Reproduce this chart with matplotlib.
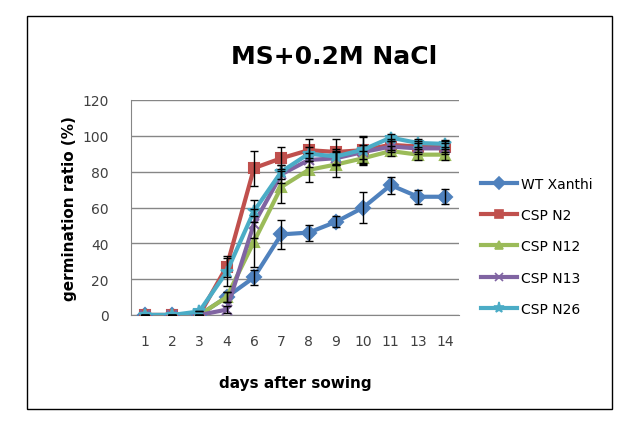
import numpy as np
import matplotlib
matplotlib.use('Agg')
import matplotlib.pyplot as plt
from matplotlib.patches import Rectangle
from matplotlib.lines import Line2D

days = ['1', '2', '3', '4', '6', '7', '8', '9', '10', '11', '13', '14']
series_names = ['WT Xanthi', 'CSP N2', 'CSP N12', 'CSP N13', 'CSP N26']

wt_xanthi = [0, 0, 0, 10, 21, 45, 46, 52, 60, 72.5, 66, 66]
wt_xanthi_err = [0, 0, 0, 3, 4, 8, 4.5, 3, 8.6, 4.8, 3.8, 4.2]
csp_n2 = [0, 0, 0, 27, 82, 87.5, 92, 91, 92, 95, 94, 94]
csp_n2_err = [0, 0, 0, 6, 9.8, 6, 6, 7, 7.5, 3, 3, 3]
csp_n12 = [0, 0, 0, 10, 41, 71.5, 81, 84, 87.5, 91.5, 89.5, 89.5]
csp_n12_err = [0, 0, 0, 3, 14, 9, 6.5, 7, 4, 3, 3, 3]
csp_n13 = [0, 0, 0, 3, 51, 78.5, 86.5, 87.5, 91, 94, 93, 93]
csp_n13_err = [0, 0, 0, 2, 8, 5, 4, 4, 4, 3, 3, 3]
csp_n26 = [0, 0, 2, 24, 58, 80, 90, 88.5, 92.3, 99, 96, 95.5]
csp_n26_err = [0, 0, 0, 8, 6, 4, 4, 4, 7.5, 2, 2, 2]

values = [wt_xanthi, csp_n2, csp_n12, csp_n13, csp_n26]
errors = [wt_xanthi_err, csp_n2_err, csp_n12_err, csp_n13_err, csp_n26_err]
colors = ['#4F81BD', '#C0504D', '#9BBB59', '#8064A2', '#4BACC6']
markers = ['D', 's', '^', 'x', '*']

fig = plt.figure(figsize=(6.27, 4.27), dpi=100)
ax = fig.add_axes([131/627, 111/427, 328/627, 215/427])

# cadre extérieur
fig.patches.append(Rectangle((27/627, 17/427), 585/627, 393/427, transform=fig.transFigure,
                             fill=False, edgecolor='black', linewidth=1))

x = np.arange(len(days))
handles = []
for name, v, e, c, m in zip(series_names, values, errors, colors, markers):
    ms = 9 if m == '*' else 7
    ax.errorbar(x, v, yerr=e, fmt='none', ecolor='black', elinewidth=1, capsize=3, capthick=1, zorder=4)
    ax.plot(x, v, color=c, marker=m, markersize=ms, markeredgewidth=1.5, linewidth=3, zorder=3)
    handles.append(Line2D([], [], color=c, marker=m, markersize=ms - 1, markeredgewidth=1.2,
                          linewidth=3, label=name))

ax.set_xlim(-0.5, len(days) - 0.5)
ax.set_ylim(0, 120)
ax.set_yticks(range(0, 121, 20))
ax.set_xticks(x)
ax.set_xticklabels(days)
ax.yaxis.grid(True, color='#868686', linewidth=1)
ax.set_axisbelow(True)
for s in ['top', 'right']:
    ax.spines[s].set_visible(False)
ax.spines['left'].set_color('#868686')
ax.spines['bottom'].set_color('#868686')
ax.tick_params(axis='both', colors='#868686', labelcolor='#404040', labelsize=10, length=0)
ax.tick_params(axis='y', pad=16)
ax.tick_params(axis='x', pad=14)

ax.set_xlabel('days after sowing', fontsize=11, fontweight='bold', labelpad=19)
ax.set_ylabel('germination ratio (%)', fontsize=11, fontweight='bold', labelpad=4)
fig.text(334/627, 1 - 57/427, 'MS+0.2M NaCl', ha='center', va='center', fontsize=18, fontweight='bold')

fig.legend(handles=handles, loc='upper left', bbox_to_anchor=(475/627, 1 - 172/427), frameon=False,
           fontsize=10, handlelength=2.6, labelspacing=1.25, handletextpad=0.3, borderaxespad=0)

fig.savefig('out.png', dpi=100)
